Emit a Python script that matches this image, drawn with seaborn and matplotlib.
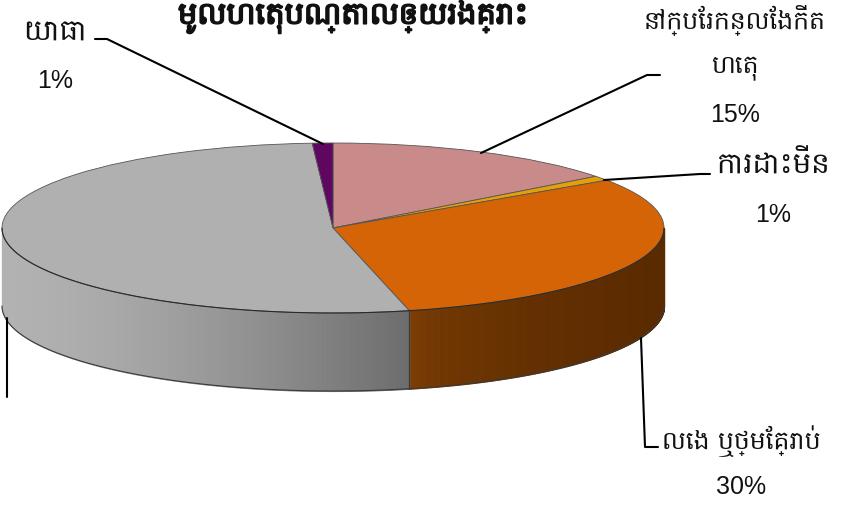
import numpy as np
import seaborn as sns
import matplotlib.pyplot as plt
import matplotlib.patheffects as pe
from matplotlib import font_manager
from matplotlib.colors import to_rgb

sns.set_theme(style="white")

title = "មូលហេតុបណ្តាលឲ្យរងគ្រោះ"
categories = ["នៅក្បែរកន្លែងកើត\nហេតុ", "ការដោះមីន", "លេង ឬថ្មែគ្រាប់", "", "យោធា"]
values = [14.6, 0.9, 30.8, 52.7, 1.0]
percent_labels = ["15%", "1%", "30%", "", "1%"]
top_colors = ["#c98a8a", "#e3a008", "#d46406", "#b0b0b0", "#5e0660"]
wall_left = ["#a06a6a", "#a87606", "#804004", "#b2b2b2", "#400440"]
wall_right = ["#a06a6a", "#a87606", "#5a2a00", "#6c6c6c", "#400440"]
wall_power = [1, 1, 0.45, 1.5, 1]

# pixel geometry of the squashed pie
W, H = 854, 514
cx, cy, rx, ry, depth = 333, 228, 331, 85, 78

# look for a font that really has Khmer, otherwise fall back
khmer = [f.name for f in font_manager.fontManager.ttflist
         if "khmer" in f.name.lower() or "hanuman" in f.name.lower()]
plt.rcParams["font.family"] = khmer[:1] + ["Liberation Sans", "DejaVu Sans"]

fig = plt.figure(figsize=(W / 100, H / 100), dpi=100)
ax = fig.add_axes([0, 0, 1, 1])
wedges, _ = ax.pie(values, colors=top_colors, startangle=90, counterclock=False,
                   radius=1, wedgeprops={"edgecolor": "#555555", "linewidth": 0.6, "zorder": 3})
ax.set_aspect("auto")
ax.set_xlim(-cx / rx, (W - cx) / rx)
ax.set_ylim(-(H - cy) / ry, cy / ry)
ax.axis("off")

# side wall, only the front half of the ellipse shows
d = depth / ry
edges = 90 - np.cumsum([0] + values) * 3.6
for i in range(len(values)):
    lo, hi = max(edges[i + 1], -180), min(edges[i], 0)
    if lo >= hi:
        continue
    steps = np.linspace(hi, lo, 241)
    left = np.array(to_rgb(wall_left[i]))
    right = np.array(to_rgb(wall_right[i]))
    x_lo, x_hi = np.cos(np.radians(steps)).min(), np.cos(np.radians(steps)).max()
    for j in range(240):
        t = np.radians(steps[j:j + 2])
        f = ((np.cos(t).mean() - x_lo) / (x_hi - x_lo)) ** wall_power[i]
        ax.fill_between(np.cos(t), np.sin(t), np.sin(t) - d, color=left * (1 - f) + right * f,
                        lw=0.8, zorder=1)
    tt = np.radians(steps)
    ax.plot(np.cos(tt), np.sin(tt) - d, color="#3a3a3a", lw=0.8, zorder=2)
    ax.plot(np.cos(tt), np.sin(tt), color="#2a2a2a", lw=0.8, zorder=4)
    for a in (hi, lo):
        if a in (0, -180):
            continue
        x, y = np.cos(np.radians(a)), np.sin(np.radians(a))
        ax.plot([x, x], [y, y - d], color="#3a3a3a", lw=0.8, zorder=2)


def px(x, y):
    return x / W, 1 - y / H


def leader(points):
    xs, ys = zip(*[px(*p) for p in points])
    fig.add_artist(plt.Line2D(xs, ys, color="black", lw=1.5, zorder=5))


def label(x, y, s, size=18):
    fig.text(*px(x, y), s, fontsize=size, ha="center", va="center", color="#111111", linespacing=1.9)


def percent(x, y, s):
    fig.text(*px(x, y), s, fontsize=18, ha="center", va="center", color="#111111",
             family=["Liberation Sans", "DejaVu Sans"])


leader([(481, 153), (647, 75), (660, 75)])
leader([(604, 180), (700, 174), (710, 174)])
leader([(641, 338), (645, 447), (658, 447)])
leader([(95, 39), (107, 39), (323, 144)])
leader([(7, 318), (7, 397)])

t = fig.text(*px(353, 17), title, fontsize=22, ha="center", va="center", color="#111111")
t.set_path_effects([pe.withStroke(linewidth=1.2, foreground="#111111")])
label(735, 43, categories[0])
percent(735, 115, percent_labels[0])
label(774, 165, categories[1], size=21)
percent(773, 215, percent_labels[1])
label(741, 441, categories[2])
percent(741, 487, percent_labels[2])
label(55, 32, categories[4], size=21)
percent(55, 81, percent_labels[4])

fig.savefig("out.png", dpi=100)
